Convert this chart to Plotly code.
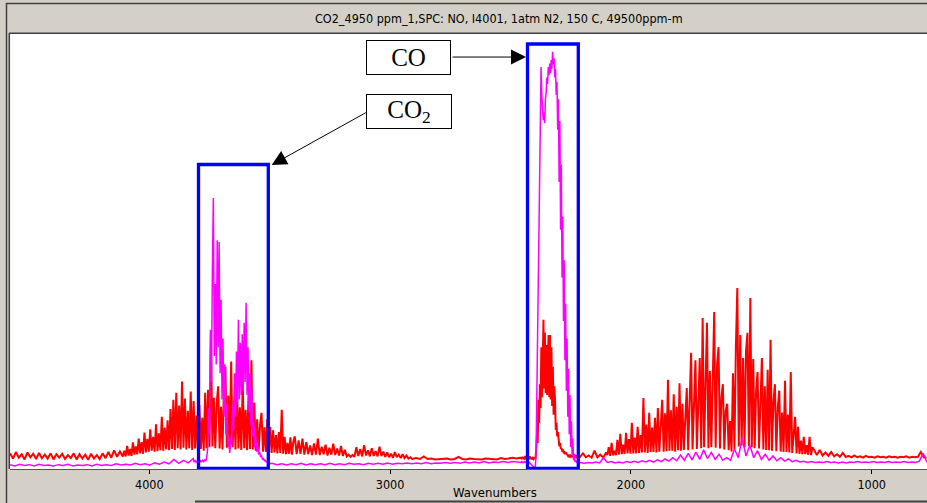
import numpy as np
import plotly.graph_objects as go

# ---------------- DATA ----------------
# Absorbance given in % of plot height; each segment = (start wavenumber, step cm-1) + values
red_grid = [(4578, 12), (4104, 6), (3396, 8), (2892, 16), (2456, 3), (2211, 12), (2098, 6), (1240, 12)]
red_a = [3.6, 2.4, 3.9, 2.6, 3.4, 2.2, 3.8, 2.7, 3.5, 2.3, 3.7, 2.5, 3.3, 2.4, 3.6, 2.2, 3.4, 2.6, 3.5, 2.3,
         3.2, 2.5, 3.6, 2.2, 3.4, 2.4, 3.3, 2.1, 3.5, 2.4, 3.2, 2.3, 3.6, 2.5, 3.9, 2.6, 4.3, 2.8, 4.0, 2.9]
red_b = [4.2, 2.9, 5.3, 3.1, 4.6, 3.0, 6.1, 3.3, 5.2, 3.4, 7.0, 3.6, 6.2, 3.5, 8.4, 3.8, 6.9, 4.0, 9.1, 4.2,
         7.4, 4.0, 10.3, 4.1, 8.2, 4.3, 12.0, 4.2, 9.5, 4.5, 11.2, 4.3, 13.8, 4.6, 15.9, 4.4, 17.5, 4.8, 14.6, 4.5,
         20.1, 4.9, 16.2, 4.5, 13.4, 4.8, 17.8, 4.4, 15.6, 4.7, 12.3, 4.3, 14.7, 4.6, 11.8, 4.2, 17.5, 4.8, 18.2, 5.0,
         31.5, 5.2, 16.4, 4.8, 15.2, 19.0, 4.7, 14.3, 4.5, 18.7, 23.5, 4.9, 16.9, 4.6, 24.7, 5.0, 15.8, 4.5, 19.5, 4.7,
         14.2, 4.4, 20.0, 4.8, 13.6, 4.3, 17.1, 4.6, 25.0, 4.5, 15.3, 4.2, 11.4, 4.1, 10.2, 12.9, 4.0, 9.6, 3.9, 11.5,
         3.9, 9.7, 3.7, 8.9, 3.8, 7.8, 3.6, 8.5, 3.7, 13.6, 3.5, 7.4, 3.4, 6.0, 3.5, 7.3, 3.3, 6.2]
red_c = [7.5, 3.4, 6.6, 3.5, 7.0, 3.3, 6.2, 3.4, 5.4, 3.2, 5.9, 3.3, 7.0, 3.2, 5.1, 3.4, 5.6, 3.1, 4.9, 3.3,
         5.8, 3.2, 4.7, 3.1, 5.3, 3.0, 4.4, 2.9, 3.3, 2.8, 3.2, 2.8, 5.0, 3.0, 4.6, 2.9, 5.5, 3.1, 4.3, 2.9,
         4.8, 3.0, 4.1, 2.9, 5.1, 3.0, 4.0, 2.8, 3.8, 2.7, 3.5, 2.6, 3.9, 2.7, 3.3, 2.5, 3.4, 2.5, 3.1, 2.4,
         2.7, 2.3, 2.4]
red_d = [2.5, 2.3, 2.9, 2.3, 2.4, 2.2, 2.3, 2.3, 2.4, 2.2, 2.3, 2.8, 2.3, 2.2, 2.4, 2.3, 2.3, 2.2, 2.4, 2.3,
         2.3, 2.2, 2.5, 2.3, 2.4, 2.6, 2.4, 2.5]
red_e = [2.6, 2.3, 2.8, 2.3, 2.5, 2.2, 3.0, 2.3, 2.6, 2.2, 2.5, 2.3, 2.9, 2.3, 2.6, 2.2, 2.5, 2.3, 2.7, 2.3,
         2.6, 4.5, 8.0, 6.0, 15.9, 10.5, 19.5, 14.0, 28.0, 16.5, 31.0, 34.3, 18.5, 31.4, 17.5, 28.5, 17.0, 29.0, 30.8, 16.5,
         30.8, 16.0, 28.0, 14.5, 23.5, 12.5, 19.0, 15.9, 9.0, 10.6, 7.5, 8.5, 6.7, 5.2, 6.0, 4.6, 4.8, 4.0, 4.5, 3.6,
         4.1, 3.4, 3.8, 3.4, 3.2, 3.0, 3.3, 2.9, 3.1, 2.8, 3.0, 2.8, 2.8, 2.7, 2.9, 2.7, 3.2, 2.7, 2.8, 2.6,
         2.9]
red_f = [2.8, 3.6, 2.7, 3.1, 2.6, 4.2, 2.7, 3.3, 2.6, 3.8]
red_g = [3.2, 5.0, 3.0, 6.0, 3.1, 4.2, 3.2, 6.7, 3.3, 8.1, 3.4, 5.6, 3.5, 8.3, 3.6, 6.9, 3.5, 10.6, 3.6, 7.2,
         3.6, 9.7, 3.7, 7.8, 3.8, 16.3, 3.8, 10.2, 3.7, 12.9, 3.9, 9.5, 3.9, 11.8, 3.8, 14.0, 4.0, 10.4, 15.9, 4.0,
         12.8, 4.1, 20.5, 4.2, 13.5, 4.2, 17.2, 4.0, 14.3, 4.3, 19.7, 4.2, 15.0, 4.4, 13.2, 18.6, 4.3, 14.8, 26.7, 4.5,
         18.0, 25.0, 4.6, 16.5, 25.5, 4.8, 34.7, 5.0, 21.0, 33.6, 4.8, 22.5, 5.0, 17.5, 36.1, 4.9, 24.0, 28.0, 4.7, 16.5,
         19.5, 4.5, 13.5, 15.0, 4.3, 11.0, 4.0, 22.0, 4.6, 28.0, 41.6, 5.2, 30.8, 5.4, 25.5, 5.0, 27.0, 31.3, 5.3, 39.3,
         5.0, 25.3, 4.8, 18.0, 22.3, 4.7, 17.0, 25.5, 4.5, 19.0, 4.4, 22.8, 4.3, 29.7, 4.2, 15.5, 19.5, 4.1, 14.0, 18.0,
         4.0, 13.0, 3.9, 20.3, 3.9, 12.5, 3.8, 22.3, 3.7, 9.0, 12.0, 3.6, 9.7, 3.5, 6.5, 3.4, 7.4, 3.4, 5.5, 3.3,
         7.4, 3.2, 5.0]
red_h = [4.5, 3.2, 4.4, 3.1, 3.8, 3.0, 3.9, 2.9, 3.4, 2.8, 3.7, 2.8, 3.0, 2.7, 3.1, 2.7, 2.9, 2.6, 3.0, 2.7,
         2.8, 2.6, 2.9, 2.7, 2.8, 2.6, 2.9, 2.7, 2.8, 2.6, 2.8, 2.7, 2.9, 2.6, 2.8, 2.7, 2.8, 3.9, 2.7, 2.6]
red_segments = [red_a, red_b, red_c, red_d, red_e, red_f, red_g, red_h]

mag_grid = [(4578, 20), (3814, 4), (3490, 20), (2460, 3), (2210, 16)]
mag_a = [1.0, 0.7, 1.1, 0.8, 1.0, 0.7, 1.1, 0.8, 0.9, 0.7, 1.0, 0.8, 1.1, 0.7, 0.9, 0.8, 1.0, 0.7, 1.1, 0.8,
         1.0, 0.8, 1.2, 0.9, 1.1, 0.9, 1.3, 1.0, 1.2, 0.9, 1.4, 1.1, 1.6, 1.2, 2.2, 1.3, 2.0, 1.4, 2.4]
mag_b = [1.6, 1.9, 1.5, 1.8, 1.6, 2.0, 1.6, 1.9, 1.7, 2.0, 1.7, 2.1, 1.8, 2.5, 4.5, 14.0, 8.0, 32.0, 20.0, 46.0,
         62.3, 26.0, 42.5, 24.0, 52.6, 28.0, 52.2, 22.0, 38.9, 16.0, 30.0, 12.0, 24.1, 8.0, 15.0, 5.0, 7.5, 3.7, 7.0, 5.5,
         15.0, 9.0, 22.0, 12.0, 27.0, 15.0, 34.3, 16.0, 29.0, 17.0, 31.0, 18.0, 33.6, 20.0, 38.2, 17.0, 28.0, 13.0, 22.0, 10.0,
         18.2, 7.5, 10.6, 5.0, 7.5, 4.0, 5.5, 3.3, 4.0, 2.8, 3.0, 2.3, 2.4, 1.9, 2.0, 1.6, 1.7, 1.4, 1.5, 1.2,
         1.3]
mag_c = [1.3, 1.0, 1.2, 0.9, 1.2, 1.0, 1.3, 0.9, 1.2, 1.0, 1.2, 1.0, 1.3, 1.0, 1.2, 1.0, 1.3, 1.1, 1.2, 1.0,
         1.3, 1.1, 1.3, 1.1, 1.4, 1.1, 1.3, 1.2, 1.4, 1.2, 1.4, 1.2, 1.5, 1.2, 1.4, 1.3, 1.5, 1.3, 1.5, 1.3,
         1.6, 1.4, 1.6, 1.4, 1.7, 1.4, 1.6, 1.5, 1.7, 1.5, 1.7, 1.6]
mag_d = [1.6, 1.5, 1.7, 1.5, 1.6, 1.5, 1.7, 1.5, 1.6, 1.5, 1.7, 1.5, 1.6, 1.4, 1.2, 1.0, 0.8, 0.6, 0.5, 0.4,
         0.4, 0.5, 2.8, 16.0, 31.0, 50.0, 64.0, 78.0, 90.0, 92.4, 86.0, 81.4, 80.2, 82.0, 79.5, 85.0, 86.5, 90.0, 88.5, 92.4,
         90.5, 93.2, 91.0, 94.0, 92.0, 95.9, 93.0, 94.4, 90.0, 92.0, 86.0, 89.0, 78.0, 85.0, 66.0, 80.0, 55.0, 70.0, 44.0, 58.0,
         34.0, 48.0, 25.0, 38.0, 18.0, 30.0, 12.0, 23.0, 8.0, 17.0, 5.0, 11.0, 3.0, 7.0, 2.0, 3.5, 1.6, 2.0, 1.5, 1.7,
         1.4, 1.6, 1.4]
mag_e = [1.5, 1.3, 1.5, 1.4, 1.6, 1.4, 2.6, 1.5, 1.7, 1.4, 1.6, 1.4, 1.7, 1.5, 1.8, 1.5, 1.9, 1.6, 2.0, 1.6,
         2.1, 1.7, 2.3, 1.8, 2.6, 1.9, 3.2, 2.0, 3.6, 2.1, 3.9, 2.2, 4.4, 2.4, 3.8, 2.2, 3.4, 2.0, 2.6, 2.0,
         4.6, 2.6, 7.1, 3.0, 5.5, 2.6, 4.2, 2.2, 3.4, 2.0, 3.0, 1.9, 2.6, 1.8, 2.3, 1.7, 2.0, 1.6, 1.8, 1.5,
         1.7, 1.5, 1.6, 1.5, 1.7, 1.5, 1.6, 1.4, 1.6, 1.4, 1.6, 1.5, 1.7, 1.5, 1.6, 1.5, 1.7, 1.5, 1.6, 1.5,
         1.7, 1.5, 1.6, 1.5, 1.7, 1.5, 1.6, 1.5, 1.8, 3.6, 1.5]
mag_segments = [mag_a, mag_b, mag_c, mag_d, mag_e]

tick_values = [4000, 3000, 2000, 1000]
tick_labels = ["4000", "3000", "2000", "1000"]
title_text = "CO2_4950 ppm_1,SPC: NO, I4001, 1atm N2, 150 C, 49500ppm-m"
x_title = "Wavenumbers"
# highlighted bands (wavenumber from/to, top level) and callouts
co2_band = (3795.7, 3505.8, 70.0)
co_band = (2429.4, 2218.4, 97.7)


def build(grid, segments):
    xs, ys = [], []
    for (start, step), vals in zip(grid, segments):
        xs.extend(start - step * np.arange(len(vals)))
        ys.extend(vals)
    return np.array(xs, dtype=float), np.array(ys, dtype=float)


rx, ry = build(red_grid, red_segments)
mx, my = build(mag_grid, mag_segments)

fig = go.Figure()
fig.add_trace(go.Scatter(x=rx, y=ry, mode="lines", line=dict(color="#ff0000", width=2.0), hoverinfo="skip"))
fig.add_trace(go.Scatter(x=mx, y=my, mode="lines", line=dict(color="#ff00ff", width=1.5), hoverinfo="skip"))

W, H = 927, 503
L, T, B = 10, 34, 34
PW, PH = W - L, H - T - B


def px(xpix):
    return (xpix - L) / PW


def py(ypix):
    return (H - B - ypix) / PH


narrow = "Liberation Sans Narrow, Arial Narrow, DejaVu Sans Condensed, Liberation Sans, sans-serif"

fig.update_layout(
    width=W, height=H,
    margin=dict(l=L, r=0, t=T, b=B),
    paper_bgcolor="#d4d0c8", plot_bgcolor="#ffffff",
    showlegend=False,
    xaxis=dict(range=[4578.5, 770.3], tickvals=tick_values, ticktext=tick_labels,
               ticks="outside", ticklen=4, tickcolor="#000000", tickwidth=1,
               tickfont=dict(family=narrow, size=12.5, color="#000000"),
               showgrid=False, zeroline=False, showline=True, linecolor="#555555", linewidth=1),
    yaxis=dict(range=[0, 100], visible=False),
)

# window frame decorations
frame = "#404040"
fig.add_shape(type="line", xref="paper", yref="paper", x0=px(6.5), x1=px(6.5), y0=py(3), y1=py(503),
              line=dict(color=frame, width=1.5))
fig.add_shape(type="line", xref="paper", yref="paper", x0=px(6), x1=px(927), y0=py(3.5), y1=py(3.5),
              line=dict(color=frame, width=1.5))
fig.add_shape(type="line", xref="paper", yref="paper", x0=px(9), x1=px(927), y0=py(33.3), y1=py(33.3),
              line=dict(color=frame, width=1.5))
fig.add_shape(type="line", xref="paper", yref="paper", x0=px(9.3), x1=px(9.3), y0=py(33), y1=py(469),
              line=dict(color=frame, width=1.5))
fig.add_shape(type="line", xref="paper", yref="paper", x0=px(195), x1=px(927), y0=py(501.5), y1=py(501.5),
              line=dict(color=frame, width=2))

# highlighted bands
for x0, x1, top in (co2_band, co_band):
    fig.add_shape(type="rect", xref="x", yref="y", x0=x0, x1=x1, y0=0.15, y1=top,
                  line=dict(color="#0000ff", width=3.3), fillcolor="rgba(0,0,0,0)")

# title and axis title
fig.add_annotation(xref="paper", yref="paper", x=px(499), y=py(18), text=title_text, showarrow=False,
                   font=dict(family=narrow, size=12.5, color="#000000"), xanchor="center", yanchor="middle")
fig.add_annotation(xref="paper", yref="paper", x=px(495), y=py(492), text=x_title, showarrow=False,
                   font=dict(family=narrow, size=13, color="#000000"), xanchor="center", yanchor="middle")

serif = "Liberation Serif, Times New Roman, serif"
# callout labels
fig.add_annotation(xref="x", yref="y", x=2924.2, y=94.5, text="CO", showarrow=False,
                   font=dict(family=serif, size=25, color="#000000"), bgcolor="#ffffff",
                   bordercolor="#000000", borderwidth=1, borderpad=0, width=83, height=33)
fig.add_annotation(xref="x", yref="y", x=2920.5, y=82.3, text="CO<sub>2</sub>", showarrow=False,
                   font=dict(family=serif, size=25, color="#000000"), bgcolor="#ffffff",
                   bordercolor="#000000", borderwidth=1, borderpad=0, width=84, height=33)
# arrows
fig.add_annotation(xref="x", yref="y", axref="x", ayref="y", x=2435.7, y=94.7, ax=2747.0, ay=94.7,
                   text="", showarrow=True, arrowhead=2, arrowsize=3, arrowwidth=1, arrowcolor="#000000",
                   standoff=0, startstandoff=0)
fig.add_annotation(xref="x", yref="y", axref="x", ayref="y", x=3491.7, y=69.9, ax=3094.7, ay=82.1,
                   text="", showarrow=True, arrowhead=2, arrowsize=3, arrowwidth=1, arrowcolor="#000000",
                   standoff=0, startstandoff=0)

fig.write_html("out.html", config={"displayModeBar": False},
               post_script="document.body.style.margin='0px';")
